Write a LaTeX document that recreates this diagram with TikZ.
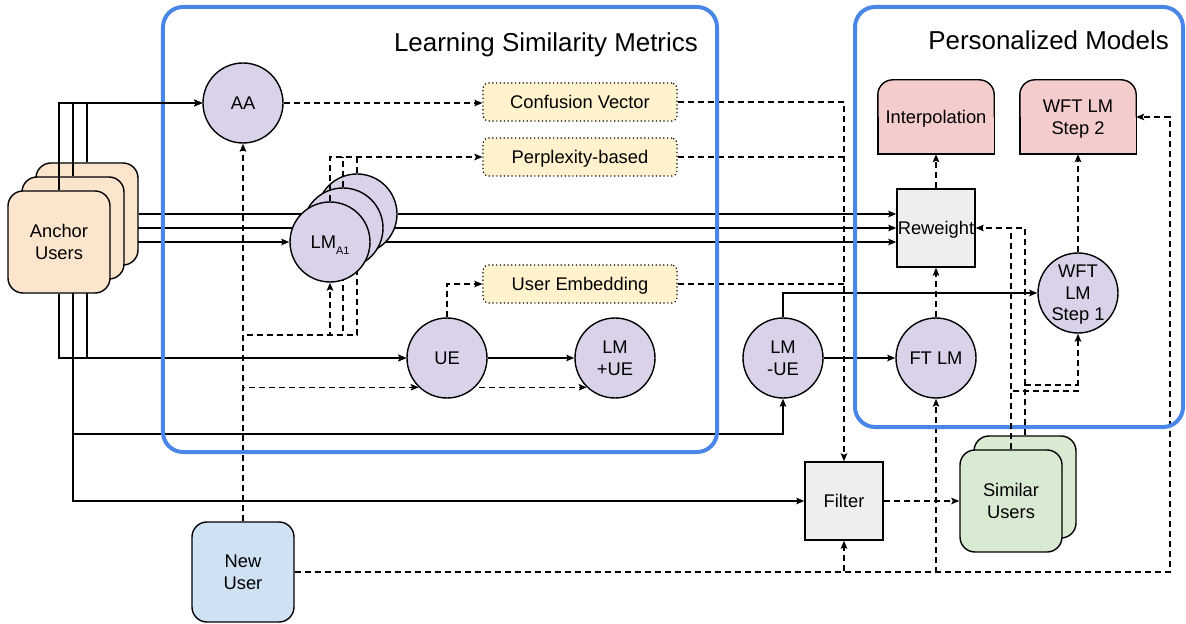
\documentclass[tikz,border=0pt]{standalone}
\usepackage{fontspec}
\setmainfont{Liberation Sans}
\usetikzlibrary{arrows.meta,backgrounds,calc}
\definecolor{frameblue}{HTML}{4A86E8}
\definecolor{anchorfill}{HTML}{FCE5CD}
\definecolor{circfill}{HTML}{D9D2E9}
\definecolor{yellowfill}{HTML}{FFF2CC}
\definecolor{grayfill}{HTML}{EEEEEE}
\definecolor{redfill}{HTML}{F4CCCC}
\definecolor{greenfill}{HTML}{D9EAD3}
\definecolor{bluefill}{HTML}{CFE2F3}
\begin{document}
\begin{tikzpicture}[x=1bp,y=-1bp,
  every node/.style={font=\fontsize{18.4}{21.5}\selectfont, text=black, text depth=0pt},
  line/.style={line width=1.4bp},
  conn/.style={line, -{Stealth[length=8bp,width=6.5bp,inset=1.5bp]}},
  dline/.style={line width=1.4bp, dash pattern=on 6bp off 4bp},
  dconn/.style={conn, dash pattern=on 6bp off 4bp},
  circ/.style={circle, draw, line width=1.4bp, fill=circfill, minimum size=80bp, inner sep=0pt, align=center},
  userbox/.style={draw, line width=1.4bp, rounded corners=15bp, minimum width=102bp, minimum height=102bp, inner sep=0pt, align=center},
  metric/.style={draw, line width=1.2bp, dash pattern=on 1.2bp off 2.6bp, fill=yellowfill, rounded corners=5bp, minimum width=194bp, minimum height=38bp, inner sep=0pt},
  graybox/.style={draw, line width=1.4bp, fill=grayfill, minimum width=78bp, minimum height=78bp, inner sep=0pt},
  modelbox/.style={minimum width=116bp, minimum height=74bp, inner sep=0pt, align=center},
  frame/.style={draw=frameblue, line width=4bp, rounded corners=20bp, inner sep=0pt},
  title/.style={font=\fontsize{26}{30}\selectfont, inner sep=0pt, anchor=east}
]
\useasboundingbox (0,0) rectangle (1186,624);

% frames
\node[frame, minimum width=554bp, minimum height=445bp] (F1) at (440,229.5) {};
\node[frame, minimum width=328bp, minimum height=420bp] (F2) at (1019,217) {};
\node[title] (T1) at (698,42) {Learning Similarity Metrics};
\node[title] (T2) at (1169,40) {Personalized Models};

% anchor users
\node[userbox, fill=anchorfill] (AU3) at (87,214) {};
\node[userbox, fill=anchorfill] (AU2) at (73,228) {};
\node[userbox, fill=anchorfill] (AU1) at (59,242) {Anchor\\Users};

% circles
\node[circ] (AA) at (243,103) {AA};
\node[circ] (LM3) at (357,214) {};
\node[circ] (LM2) at (343,228) {};
\node[circ] (LM1) at (330,242) {LM\raisebox{-6.5pt}{\fontsize{11}{11}\selectfont A1}};
\node[circ] (UE) at (447,358) {UE};
\node[circ] (LMpUE) at (615,358) {LM\\+UE};
\node[circ] (LMmUE) at (783,358) {LM\\-UE};
\node[circ] (FT) at (936,358) {FT LM};
\node[circ] (Step1) at (1078,293) {WFT\\LM\\Step 1};

% metrics
\node[metric] (CV) at (580,102) {Confusion Vector};
\node[metric] (PB) at (580,157) {Perplexity-based};
\node[metric] (UEmb) at (580,284) {User Embedding};

% gray boxes
\node[graybox] (Rw) at (936,228) {Reweight};
\node[graybox] (Filter) at (844,501) {Filter};

% models
\node[modelbox] (Interp) at (936,117) {Interpolation};
\node[modelbox] (Step2) at (1078,117) {WFT LM\\Step 2};

% similar users and new user
\node[userbox, fill=greenfill] (SU2) at (1025,487) {};
\node[userbox, fill=greenfill] (SU1) at (1011,501) {Similar\\Users};
\node[userbox, fill=bluefill, minimum height=100bp] (NU) at (243,572) {New\\User};

\coordinate (yLow) at (0,434);
\coordinate (yLM) at (0,335);
\coordinate (xR) at (1170,0);
\coordinate (ySU1) at (0,391);
\coordinate (ySU2) at (0,385);

\begin{pgfonlayer}{background}
% model boxes with rounded top corners
\foreach \m in {Interp,Step2}{
  \draw[line width=1.4bp, fill=redfill, rounded corners=15bp] (\m.south west) rectangle (\m.north east);
  \fill[redfill] (\m.west) rectangle (\m.south east);
  \draw[line width=1.4bp] (\m.west) |- (\m.south east) -- (\m.east);
}
% anchor users -> LMs -> reweight
\draw[conn] (AU1.east) -- (LM1.west);
\draw[conn] (AU2.east) -- (LM2.west);
\draw[conn] (AU3.east) -- (LM3.west);
\draw[conn] (LM1.east) -- (LM1.east -| Rw.west);
\draw[conn] (LM2.east) -- (LM2.east -| Rw.west);
\draw[conn] (LM3.east) -- (LM3.east -| Rw.west);
% anchor users -> UE, LM-UE, Filter
\draw[conn] (AU1.south) |- (UE.west);
\draw[conn] (AU3.south) |- (UE.west);
\draw[conn] (AU2.south) -- (AU2.south |- yLow) -| (LMmUE.south);
\draw[conn] (AU2.south) |- (Filter.west);
% new user
\draw[dconn] (NU.north) -- (NU.north |- AA.south);
\draw[dconn] (NU.north) -- (NU.north |- yLM) -| (LM1.south);
\draw[dconn] (NU.north) -- (NU.north |- yLM) -| (LM2.south);
\draw[dconn] (NU.north) -- (NU.north |- yLM) -| (LM3.south);
\draw[dconn] (NU.north) |- (LMpUE.226.47);
\draw[dconn] (NU.north) |- (UE.226.47);
\draw[dconn] (NU.east) -| (Filter.south);
\draw[dconn] (NU.east) -| (FT.south);
\draw[dconn] (NU.east) -- (NU.east -| xR) |- (Step2.east);
% metrics
\draw[dconn] (AA.east) -- (AA.east -| CV.west);
\draw[dconn] (UE.north) |- (UEmb.west);
\draw[dconn] (CV.east) -| (Filter.north);
\draw[dline] (PB.east) -- (PB.east -| Filter.north);
\draw[dline] (UEmb.east) -- (UEmb.east -| Filter.north);
% models
\draw[conn] (UE) -- (LMpUE);
\draw[conn] (LMmUE) -- (FT);
\draw[conn] (LMmUE.north) |- (Step1.west);
\draw[dconn] (FT.north) -- (FT.north |- Rw.south);
\draw[dconn] (Rw.north) -- (Rw.north |- Interp.south);
\draw[dconn] (Step1.north) -- (Step1.north |- Step2.south);
\draw[dconn] (Filter.east) -- (Filter.east -| SU1.west);
\end{pgfonlayer}

% connectors drawn over nodes
\draw[conn] (AU1.north) |- (AA.west);
\draw[conn] (AU2.north) |- (AA.west);
\draw[conn] (AU3.north) |- (AA.west);
\draw[dconn] (LM1.north) |- (PB.west);
\draw[dline] (LM2.north) -- (LM2.north |- PB.west);
\draw[dline] (LM3.north) -- (LM3.north |- PB.west);
\draw[dconn] (SU2.north) |- (Rw.east);
\draw[dline] (SU1.north) -- (SU1.north |- Rw.east);
\draw[dconn] (SU1.north) -- (SU1.north |- ySU1) -| (Step1.south);
\draw[dline] (SU2.north) -- (SU2.north |- ySU2) -- (ySU2 -| Step1.south);
\end{tikzpicture}
\end{document}
